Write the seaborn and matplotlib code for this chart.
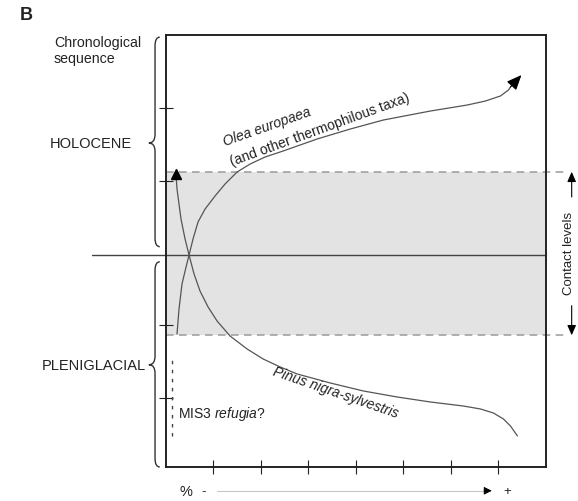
import matplotlib
matplotlib.use("Agg")
import matplotlib.pyplot as plt
import seaborn as sns
import pandas as pd
from matplotlib.path import Path
from matplotlib.patches import PathPatch

# ---- data (schematic, in chart units: x = abundance %, y = chronological position) ----
pinus_x = [0.221, 0.242, 0.284, 0.326, 0.411, 0.495, 0.600, 0.726, 0.895, 1.084, 1.358, 1.716,
           2.053, 2.411, 2.768, 3.463, 4.158, 4.874, 5.568, 6.263, 6.621, 6.895, 7.105, 7.253,
           7.400]
pinus_y = [4.056, 3.861, 3.653, 3.444, 3.167, 2.944, 2.681, 2.444, 2.222, 2.028, 1.819, 1.639,
           1.500, 1.389, 1.292, 1.167, 1.056, 0.972, 0.903, 0.847, 0.806, 0.750, 0.667, 0.569,
           0.431]
olea_x = [0.242, 0.284, 0.347, 0.432, 0.495, 0.579, 0.684, 0.832, 1.042, 1.253, 1.505, 1.779,
          2.095, 2.474, 3.189, 3.884, 4.579, 5.568, 6.347, 6.726, 7.042, 7.211, 7.253]
olea_y = [1.847, 2.194, 2.542, 2.778, 2.944, 3.167, 3.403, 3.583, 3.764, 3.931, 4.097, 4.208,
          4.306, 4.389, 4.556, 4.694, 4.819, 4.944, 5.028, 5.083, 5.153, 5.236, 5.278]
olea_tip = (7.484, 5.444)

x_ticks = [1, 2, 3, 4, 5, 6, 7]
y_ticks = [0.96, 1.97, 3.97, 4.99]
boundary_y = 2.94          # Holocene / Pleniglacial limit
contact_band = (1.83, 4.10)
mis3_x = 0.14
mis3_span = (0.43, 1.53)

periods = ["HOLOCENE", "PLENIGLACIAL"]
brace_spans = [(3.06, 5.97, 4.50), (0.0, 2.85, 1.42)]

df_p = pd.DataFrame({"x": pinus_x, "y": pinus_y})
df_o = pd.DataFrame({"x": olea_x, "y": olea_y})

sns.set_theme(style="white")
plt.rcParams["font.family"] = ["Liberation Sans", "DejaVu Sans"]
plt.rcParams["mathtext.fontset"] = "custom"
plt.rcParams["mathtext.rm"] = "Liberation Sans"
plt.rcParams["mathtext.it"] = "Liberation Sans:italic"
TXT = "#222222"

fig = plt.figure(figsize=(5.78, 5.02), dpi=100)
ax = fig.add_axes([165.5 / 578, 34 / 502, 380.5 / 578, 432 / 502])
ax.set_xlim(0, 8)
ax.set_ylim(0, 6)

# contact band
ax.axhspan(contact_band[0], contact_band[1], color="#e3e3e3", zorder=0, lw=0)
for yb in contact_band:
    ax.plot([0, 8.45], [yb, yb], color="#9a9a9a", lw=1.1, ls=(0, (5, 3.5)),
            clip_on=False, zorder=1)

# boundary line
ax.plot([-1.55, 8], [boundary_y, boundary_y], color="#444444", lw=1.0, clip_on=False, zorder=2)

# curves
sns.lineplot(data=df_p, x="x", y="y", sort=False, estimator=None, color="#555555",
             lw=0.9, ax=ax, zorder=3)
sns.lineplot(data=df_o, x="x", y="y", sort=False, estimator=None, color="#555555",
             lw=0.9, ax=ax, zorder=3)
ax.plot([pinus_x[0]], [pinus_y[0] + 0.01], marker="^", ms=7, color="black", zorder=4)
ax.annotate("", xy=olea_tip, xytext=(olea_x[-1], olea_y[-1]),
            arrowprops=dict(arrowstyle="-|>,head_length=0.75,head_width=0.32", color="black",
                            lw=0.9, shrinkA=0, shrinkB=0), zorder=4)

# MIS3 dashed line
ax.plot([mis3_x, mis3_x], list(mis3_span), color="#444444", lw=1.0, ls=(0, (2.5, 4)))

# texts inside
ax.text(2.14, 4.74, "Olea europaea", style="italic", rotation=19.5, fontsize=10,
        color=TXT, ha="center", va="center", rotation_mode="anchor")
ax.text(3.25, 4.69, "(and other thermophilous taxa)", rotation=20, fontsize=10,
        color=TXT, ha="center", va="center", rotation_mode="anchor")
ax.text(3.57, 1.05, "Pinus nigra-sylvestris", style="italic", rotation=-19, fontsize=10,
        color=TXT, ha="center", va="center", rotation_mode="anchor")
ax.text(0.27, 0.75, r"MIS3 $\mathit{refugia}$?", fontsize=10, color=TXT,
        ha="left", va="center")

# contact levels
xc = 8.54
ax.annotate("", xy=(xc, contact_band[1]), xytext=(xc, 3.75),
            arrowprops=dict(arrowstyle="-|>,head_length=0.5,head_width=0.22", color="black",
                            lw=0.8, shrinkA=0, shrinkB=0), annotation_clip=False)
ax.annotate("", xy=(xc, contact_band[0]), xytext=(xc, 2.24),
            arrowprops=dict(arrowstyle="-|>,head_length=0.5,head_width=0.22", color="black",
                            lw=0.8, shrinkA=0, shrinkB=0), annotation_clip=False)
ax.text(8.49, 2.98, "Contact levels", rotation=90, fontsize=9.5, color=TXT,
        ha="center", va="center", clip_on=False)

# bottom % scale
ax.text(0.43, -0.33, "%", fontsize=10.5, color=TXT, ha="center", va="center", clip_on=False)
ax.text(0.81, -0.33, "-", fontsize=9.5, color=TXT, ha="center", va="center", clip_on=False)
ax.plot([1.08, 6.75], [-0.33, -0.33], color="#c8c8c8", lw=0.8, clip_on=False)
ax.annotate("", xy=(6.86, -0.33), xytext=(6.70, -0.33),
            arrowprops=dict(arrowstyle="-|>,head_length=0.4,head_width=0.2", color="black",
                            lw=0.6, shrinkA=0, shrinkB=0), annotation_clip=False)
ax.text(7.19, -0.33, "+", fontsize=9.5, color=TXT, ha="center", va="center", clip_on=False)

# ticks & spines
ax.set_xticks(x_ticks)
ax.set_yticks(y_ticks)
ax.set_xticklabels([])
ax.set_yticklabels([])
ax.set_xlabel("")
ax.set_ylabel("")
ax.tick_params(axis="both", direction="inout", length=9.5, width=0.8, colors="#222222",
               bottom=True, left=True)
for s in ax.spines.values():
    s.set_color("#222222")
    s.set_linewidth(1.4)

# braces
def brace(y0, y1, ym, xm=-0.22, xe=-0.12, xt=-0.35, r=0.12):
    verts = [(xe, y1), (xm, y1), (xm, y1 - r),
             (xm, ym + r),
             (xm, ym), (xt, ym),
             (xm, ym), (xm, ym - r),
             (xm, y0 + r),
             (xm, y0), (xe, y0)]
    codes = [Path.MOVETO, Path.CURVE3, Path.CURVE3,
             Path.LINETO,
             Path.CURVE3, Path.CURVE3,
             Path.CURVE3, Path.CURVE3,
             Path.LINETO,
             Path.CURVE3, Path.CURVE3]
    return PathPatch(Path(verts, codes), fill=False, ec="#333333", lw=1.0, clip_on=False)

for (y0, y1, ym) in brace_spans:
    ax.add_patch(brace(y0, y1, ym))

# left labels (figure coords in pixels)
def ftext(px, py, s, **kw):
    fig.text(px / 578, 1 - py / 502, s, color=TXT, **kw)

ftext(20, 15, "B", fontsize=13, fontweight="bold", ha="left", va="center")
ftext(54, 51, "Chronological\nsequence", fontsize=10.2, ha="left", va="center", linespacing=1.2)
ftext(50, 144, periods[0], fontsize=10.5, ha="left", va="center")
ftext(146, 366, periods[1], fontsize=10.5, ha="right", va="center")

fig.savefig("out.png", dpi=100)
